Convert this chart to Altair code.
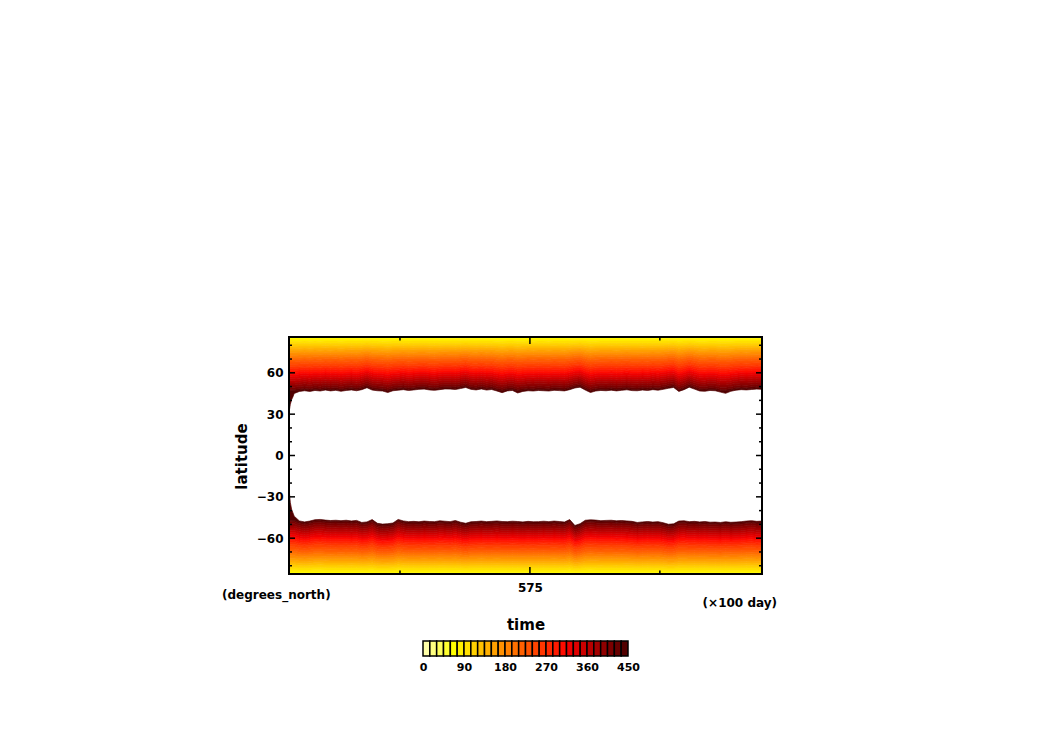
import altair as alt
import pandas as pd
import numpy as np

# ---------------- data ----------------
# sampled times (x100 day); dense at the start to show the spin-up
time_pts = [528.65, 528.9, 529.15, 529.4] + [529.65 + i for i in range(91)]

# latitude (deg N) of the white boundary, northern hemisphere, at each time
nh_edge = [31.0, 37.0, 40.5, 42.5,
           45.0, 46.5, 47.0, 46.5, 47.2, 46.8, 47.5, 46.9, 47.3, 46.6,
           47.2, 47.6, 47.0, 47.8, 49.2, 47.5, 47.0, 46.8, 45.7, 47.0,
           47.4, 47.8, 47.2, 47.6, 48.0, 48.2, 47.6, 47.3, 47.8, 48.3,
           48.2, 47.9, 48.6, 49.4, 48.0, 47.6, 48.3, 47.5, 47.9, 46.8, 45.6, 46.9, 47.2, 45.4,
           46.5, 47.0, 46.8, 47.2, 47.0, 46.8, 47.3, 47.1, 46.9, 47.8, 49.0, 49.6, 47.5, 45.7,
           46.8, 47.2, 47.0, 47.4, 46.9, 47.3, 47.7, 47.1, 47.0, 47.5, 47.2, 47.8, 47.4, 48.0,
           48.8, 49.4, 46.5, 47.8, 49.6, 48.2, 46.8, 46.6, 47.2, 47.0, 46.0, 45.1, 46.6, 47.4,
           47.8, 47.6, 47.9, 48.2, 48.0]

# |latitude| (deg S) of the white boundary, southern hemisphere, at each time
sh_edge = [24.0, 34.0, 39.0, 41.5,
           44.0, 47.5, 48.2, 47.6, 46.6, 46.4, 46.9, 47.2, 47.0, 47.3,
           47.0, 47.5, 47.1, 48.6, 48.2, 46.5, 49.2, 49.8, 49.5, 49.0,
           46.4, 47.5, 48.0, 47.8, 48.1, 47.6, 47.9, 48.0, 47.4, 47.7,
           48.0, 47.2, 48.4, 49.2, 48.1, 47.9, 47.6, 48.0, 47.8, 47.5, 47.9, 48.0, 47.7, 47.9,
           48.2, 47.8, 48.1, 48.0, 47.7, 48.0, 47.6, 47.9, 48.3, 46.5, 50.8, 49.5, 47.0, 46.7,
           46.9, 47.3, 47.1, 47.0, 47.4, 47.2, 47.5, 47.8, 48.6, 48.2, 47.9, 48.3, 48.0, 48.8,
           49.9, 49.6, 47.6, 47.4, 48.0, 47.8, 48.2, 47.9, 48.4, 48.3, 48.6, 48.1, 48.5, 48.3,
           48.0, 47.6, 47.3, 47.8, 47.6]

# typical value profile (time with boundary at 47 deg)
profile_lat = [88.0, 87.5, 84.0, 80.0, 76.5, 72.0, 69.5, 65.0, 62.0, 58.0, 55.0, 52.0, 49.0, 47.0]
profile_val = [30, 40, 82, 115, 150, 190, 215, 255, 290, 330, 360, 390, 420, 449]

# colour bar: 30 steps of 15 from 0 to 450
level_lo = list(range(0, 450, 15))
level_colors = ["#ffffa8", "#ffff80", "#ffff5c", "#ffff30", "#ffff00", "#fff000",
                "#ffe000", "#ffd000", "#ffc000", "#ffb000", "#ffa000", "#ff9000",
                "#ff8000", "#ff7000", "#ff6000", "#ff5200", "#ff4400", "#ff3600",
                "#ff2800", "#ff1a00", "#ff0c00", "#f00000", "#e00000", "#cc0000",
                "#b80000", "#a40000", "#900000", "#7c0000", "#680000", "#520000"]
cbar_labels = [0, 90, 180, 270, 360, 450]

y_major = [-60, -30, 0, 30, 60]
y_minor = [-80, -70, -50, -40, -20, -10, 10, 20, 40, 50, 70, 80]
x_major = [575]
x_minor = [550, 600]

# ---------------- shaded contour bands ----------------
prof_s = (88.0 - np.array(profile_lat)) / (88.0 - 47.0)
prof_v = np.array(profile_val, dtype=float)
LAT_MAX = 86.0


def level_lat(V, edge):
    """latitude (abs) of contour V for a time whose white boundary is at `edge`"""
    if V >= 450:
        return edge
    eff = max(edge, 46.0)
    s = float(np.interp(V, prof_v, prof_s))
    return min(88.0 - s * (88.0 - eff), LAT_MAX)


rows = []
for j, t in enumerate(time_pts):
    for hemi, edge in (("N", nh_edge[j]), ("S", sh_edge[j])):
        for lo in level_lo:
            a = level_lat(lo + 15, edge)   # equatorward side
            b = level_lat(lo, edge)        # poleward side
            b = max(b, a)
            if hemi == "N":
                rows.append((t, hemi, lo + 7.5, a, b))
            else:
                rows.append((t, hemi, lo + 7.5, -b, -a))
band_df = pd.DataFrame(rows, columns=["t", "hemi", "v", "y0", "y1"])

W, H = 473, 237
FONT = "DejaVu Sans"

thresholds = [x + 15 for x in level_lo[:-1]]
cscale = alt.Scale(type="threshold", domain=thresholds, range=level_colors)
xs = alt.Scale(domain=[528.65, 619.65], nice=False, zero=False)
ys = alt.Scale(domain=[-86, 86], nice=False, zero=False)

x_axis = alt.Axis(values=x_major, title="time", ticks=False, tickSize=0, domain=False,
                  grid=False, labelFontSize=12, labelFontWeight="bold", labelPadding=8,
                  labelColor="black", titleColor="black", titleFontSize=15,
                  titleFontWeight="bold", titleY=55, titleBaseline="alphabetic")
y_axis = alt.Axis(values=y_major, title="latitude", ticks=False, tickSize=0, domain=False,
                  grid=False, labelFontSize=12, labelFontWeight="bold", labelPadding=6,
                  labelColor="black", titleColor="black", titleFontSize=15,
                  titleFontWeight="bold", titleAngle=270, titleX=-43, titleY=119,
                  titleBaseline="alphabetic")

heat = alt.Chart(band_df).mark_area(strokeWidth=0.7, clip=True).encode(
    x=alt.X("t:Q", scale=xs, axis=x_axis),
    y=alt.Y("y0:Q", scale=ys, axis=y_axis),
    y2="y1:Q",
    color=alt.Color("v:Q", scale=cscale, legend=None),
    stroke=alt.Stroke("v:Q", scale=cscale, legend=None),
    detail="hemi:N",
)


def ydf(vals):
    return pd.DataFrame({"y0": vals})


def xdf(vals):
    return pd.DataFrame({"t": vals})


tick_layers = []
for vals, ln in ((y_major, 6), (y_minor, 3)):
    tick_layers.append(alt.Chart(ydf(vals)).mark_rule(color="black", strokeWidth=1.5).encode(
        y=alt.Y("y0:Q", scale=ys, axis=y_axis), x=alt.value(0), x2=alt.value(ln)))
    tick_layers.append(alt.Chart(ydf(vals)).mark_rule(color="black", strokeWidth=1.5).encode(
        y=alt.Y("y0:Q", scale=ys, axis=y_axis), x=alt.value(W), x2=alt.value(W - ln)))
for vals, ln in ((x_major, 7), (x_minor, 3.5)):
    tick_layers.append(alt.Chart(xdf(vals)).mark_rule(color="black", strokeWidth=1.5).encode(
        x=alt.X("t:Q", scale=xs, axis=x_axis), y=alt.value(0), y2=alt.value(ln)))
    tick_layers.append(alt.Chart(xdf(vals)).mark_rule(color="black", strokeWidth=1.5).encode(
        x=alt.X("t:Q", scale=xs, axis=x_axis), y=alt.value(H), y2=alt.value(H - ln)))

frame = alt.Chart(pd.DataFrame({"f": [1]})).mark_rect(
    filled=False, stroke="black", strokeWidth=2).encode(
    x=alt.value(0), x2=alt.value(W), y=alt.value(0), y2=alt.value(H))

unit_left = alt.Chart(pd.DataFrame({"txt": ["(degrees_north)"]})).mark_text(
    align="left", baseline="middle", fontSize=12, fontWeight="bold", color="black").encode(
    x=alt.value(-67), y=alt.value(258), text="txt:N")
unit_right = alt.Chart(pd.DataFrame({"txt": ["(×100 day)"]})).mark_text(
    align="right", baseline="middle", fontSize=12, fontWeight="bold", color="black").encode(
    x=alt.value(488), y=alt.value(266), text="txt:N")

main = alt.layer(heat, *tick_layers, frame, unit_left, unit_right).properties(width=W, height=H)

# colour bar
k = 205.0 / 450.0
cb_df = pd.DataFrame({"lo": level_lo, "hi": [x + 15 for x in level_lo],
                      "mid": [x + 7.5 for x in level_lo]})
cbar = alt.Chart(cb_df).mark_rect(stroke="black", strokeWidth=1.5).encode(
    x=alt.X("lo:Q", scale=alt.Scale(domain=[-134 / k, (W - 134) / k], nice=False, zero=False),
            axis=alt.Axis(values=cbar_labels, title=None, ticks=False, tickSize=0, domain=False,
                          grid=False, labelFontSize=11, labelFontWeight="bold", labelPadding=5,
                          labelColor="black")),
    x2="hi:Q",
    color=alt.Color("mid:Q", scale=cscale, legend=None),
).properties(width=W, height=15)

chart = alt.vconcat(main, cbar, spacing=67, bounds="flush").resolve_scale(
    x="independent", y="independent"
).properties(
    padding={"left": 214, "top": 328, "right": 5, "bottom": 5}
).configure(font=FONT).configure_view(strokeWidth=0).configure_axis(labelFont=FONT, titleFont=FONT)

chart.save("out.html", embed_options={"renderer": "svg", "actions": False})
